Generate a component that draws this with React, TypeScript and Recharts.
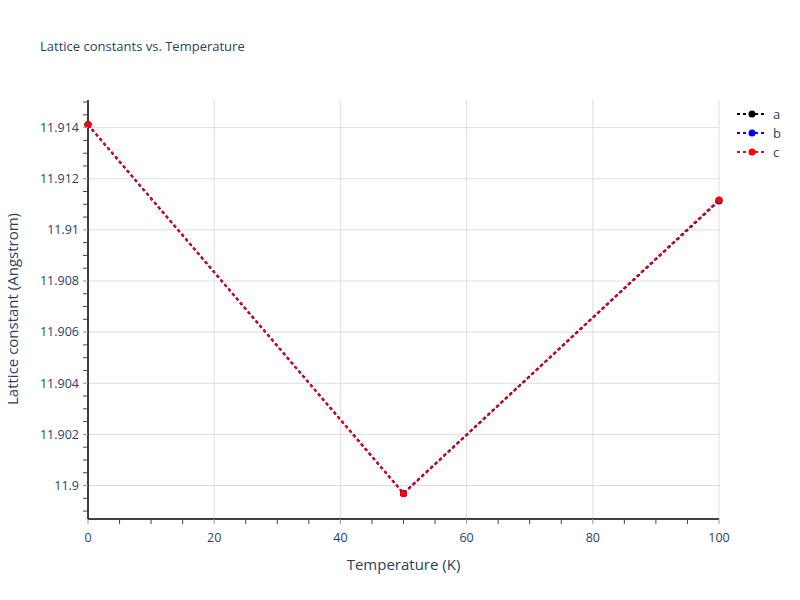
import React from 'react';
import { LineChart, Line, XAxis, YAxis, ReferenceLine, Label } from 'recharts';

// temperatures (K) and lattice constants (Angstrom)
const temperatures = [0, 50, 100];
const aValues = [11.91411, 11.89969, 11.91116];
const bValues = [11.91411, 11.8997, 11.91113];
const cValues = [11.91412, 11.89968, 11.91117];

const xMajorTicks = [0, 20, 40, 60, 80, 100];
const xMinorTicks = [5, 10, 15, 25, 30, 35, 45, 50, 55, 65, 70, 75, 85, 90, 95];
const xGridLines = [20, 40, 60, 80, 100];

const yMajorTicks = [11.9, 11.902, 11.904, 11.906, 11.908, 11.91, 11.912, 11.914];
const yTickLabels = ['11.9', '11.902', '11.904', '11.906', '11.908', '11.91', '11.912', '11.914'];
const yMinorTicks = [
  11.899, 11.8995, 11.9005, 11.901, 11.9015, 11.9025, 11.903, 11.9035, 11.9045, 11.905, 11.9055,
  11.9065, 11.907, 11.9075, 11.9085, 11.909, 11.9095, 11.9105, 11.911, 11.9115, 11.9125, 11.913,
  11.9135, 11.9145, 11.915,
];

const seriesNames = ['a', 'b', 'c'];
const seriesColors = ['#000000', '#0000ff', '#ff0000'];

const data = temperatures.map((t, i) => ({ t, a: aValues[i], b: bValues[i], c: cValues[i] }));

const FONT = '"Open Sans", verdana, arial, sans-serif';
const TEXT = '#2a3f5f';

const XTick = (props: any) => {
  const { x, y, payload } = props;
  const major = xMajorTicks.includes(payload.value);
  return (
    <g>
      <line x1={x} x2={x} y1={y} y2={y + 5} stroke={major ? '#999' : '#444'} strokeWidth={1} />
      {major && (
        <text x={x} y={y + 23} textAnchor="middle" fontSize={12.5} fill={TEXT} fontFamily={FONT}>
          {payload.value}
        </text>
      )}
    </g>
  );
};

const YTick = (props: any) => {
  const { x, y, payload } = props;
  const idx = yMajorTicks.findIndex(v => Math.abs(v - payload.value) < 1e-7);
  const major = idx >= 0;
  return (
    <g>
      <line x1={x - 5} x2={x} y1={y} y2={y} stroke={major ? '#999' : '#444'} strokeWidth={1} />
      {major && (
        <text x={x - 9} y={y} dy="0.35em" textAnchor="end" fontSize={12.5} fill={TEXT} fontFamily={FONT}>
          {yTickLabels[idx]}
        </text>
      )}
    </g>
  );
};

const renderYLabel = () => (
  <text
    x={12}
    y={309}
    transform="rotate(-90, 12, 309)"
    textAnchor="middle"
    dominantBaseline="central"
    fontSize={15}
    fill={TEXT}
    fontFamily={FONT}
  >
    Lattice constant (Angstrom)
  </text>
);

const App: React.FC = () => {
  return (
    <div style={{ position: 'absolute', left: 0, top: 0, width: 800, height: 600, background: '#fff' }}>
      <div
        style={{
          position: 'absolute',
          left: 40,
          top: 37,
          fontFamily: FONT,
          fontSize: 13,
          color: TEXT,
          whiteSpace: 'nowrap',
        }}
      >
        Lattice constants vs. Temperature
      </div>
      {/* legend, top right */}
      <div style={{ position: 'absolute', left: 736, top: 104, fontFamily: FONT, fontSize: 13, color: TEXT }}>
        {seriesNames.map((name, i) => (
          <div key={name} style={{ display: 'flex', alignItems: 'center', height: 19 }}>
            <svg width={31} height={10}>
              <line x1={1} x2={30} y1={5} y2={5} stroke={seriesColors[i]} strokeWidth={2} strokeDasharray="3 3" />
              <circle cx={16} cy={5} r={3.5} fill={seriesColors[i]} />
            </svg>
            <span style={{ marginLeft: 6 }}>{name}</span>
          </div>
        ))}
      </div>
      <LineChart width={800} height={600} data={data} margin={{ top: 100, right: 81, bottom: 0, left: 0 }}>
        <XAxis
          dataKey="t"
          type="number"
          domain={[0, 100]}
          ticks={[...xMajorTicks, ...xMinorTicks]}
          interval={0}
          height={81}
          tickSize={0}
          tickMargin={0}
          tickLine={false}
          axisLine={{ stroke: '#000', strokeWidth: 1.5 }}
          tick={<XTick />}
        >
          <Label value="Temperature (K)" position="insideBottom" offset={30} fontSize={15} fill={TEXT} fontFamily={FONT} />
        </XAxis>
        <YAxis
          type="number"
          domain={[11.89869, 11.91508]}
          allowDataOverflow
          ticks={[...yMajorTicks, ...yMinorTicks]}
          interval={0}
          width={88}
          tickSize={0}
          tickMargin={0}
          tickLine={false}
          axisLine={{ stroke: '#000', strokeWidth: 1.5 }}
          tick={<YTick />}
        >
          <Label content={renderYLabel} />
        </YAxis>
        {yMajorTicks.map(v => (
          <ReferenceLine key={`h${v}`} y={v} stroke="#dedede" strokeWidth={1} />
        ))}
        {xGridLines.map(v => (
          <ReferenceLine key={`v${v}`} x={v} stroke="#dedede" strokeWidth={1} />
        ))}
        {seriesNames.map((name, i) => (
          <Line
            key={name}
            dataKey={name}
            name={name}
            stroke={seriesColors[i]}
            strokeWidth={2}
            strokeDasharray="3 3"
            dot={{ r: 3.5, fill: seriesColors[i], stroke: seriesColors[i], strokeWidth: 0 }}
            activeDot={false}
            isAnimationActive={false}
          />
        ))}
      </LineChart>
    </div>
  );
};

export default App;
